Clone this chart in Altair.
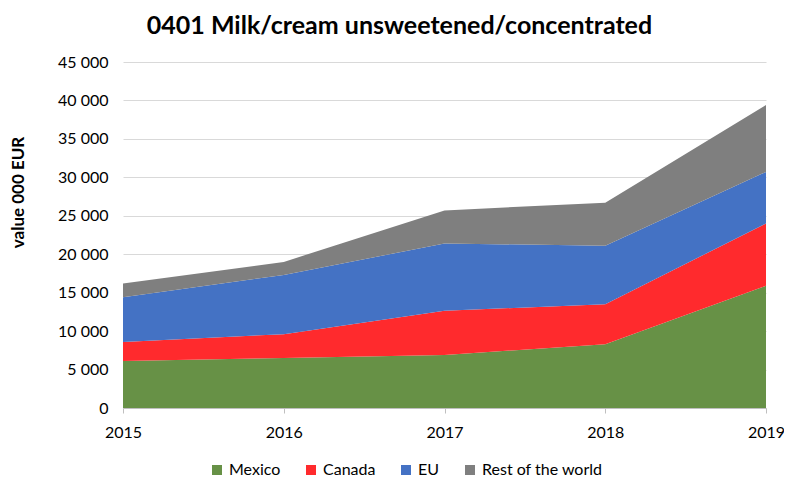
import altair as alt
import pandas as pd

years = [2015, 2016, 2017, 2018, 2019]
series = ["Mexico", "Canada", "EU", "Rest of the world"]
mexico = [6100, 6500, 6900, 8300, 15900]
canada = [2500, 3100, 5750, 5200, 8100]
eu = [5800, 7700, 8750, 7600, 6700]
rest = [1800, 1700, 4300, 5600, 8700]
colors = ["#679146", "#FF2A2D", "#4472C4", "#7F7F7F"]

rows = []
for i, (name, vals) in enumerate(zip(series, [mexico, canada, eu, rest])):
    for y, v in zip(years, vals):
        rows.append({"year": y, "series": name, "value": v, "idx": i})
df = pd.DataFrame(rows)

FONT = "Lato"

chart = alt.Chart(df).mark_area(opacity=1).encode(
    x=alt.X("year:Q", scale=alt.Scale(domain=[2015, 2019], nice=False),
            axis=alt.Axis(values=years, format="d", title=None, grid=False,
                          domainColor="#BFBFBF", tickColor="#BFBFBF", tickSize=5,
                          labelFontSize=16, labelColor="#000000", labelPadding=11,
                          labelFont=FONT, labelFlush=False)),
    y=alt.Y("value:Q", stack="zero", scale=alt.Scale(domain=[0, 45000], nice=False),
            axis=alt.Axis(values=list(range(0, 45001, 5000)), title="value 000 EUR",
                          labelExpr="replace(format(datum.value, ',d'), ',', ' ')",
                          domain=False, ticks=False, gridColor="#D9D9D9",
                          labelFontSize=16, labelColor="#000000", labelPadding=15,
                          labelFont=FONT, titleFont=FONT, titleFontSize=17,
                          titleFontWeight="bold", titleColor="#000000",
                          titleX=-96, titleY=130)),
    color=alt.Color("series:N", scale=alt.Scale(domain=series, range=colors),
                    legend=alt.Legend(title=None, orient="none", direction="horizontal",
                                      legendX=86, legendY=400, symbolType="square",
                                      symbolSize=100, symbolStrokeWidth=0,
                                      labelFontSize=16, labelFont=FONT,
                                      labelColor="#000000", columnPadding=22,
                                      symbolOpacity=1)),
    order=alt.Order("idx:Q", sort="ascending"),
).properties(
    width=643, height=346,
    title=alt.TitleParams("0401 Milk/cream unsweetened/concentrated", fontSize=25,
                          font=FONT, fontWeight="bold", color="#000000",
                          anchor="middle", dx=-45, offset=15),
    autosize=alt.AutoSizeParams(type="none"),
    padding={"left": 115, "top": 54, "right": 18, "bottom": 71},
).configure_view(stroke=None)

chart.save("out.html", embed_options={"renderer": "svg", "actions": False})
